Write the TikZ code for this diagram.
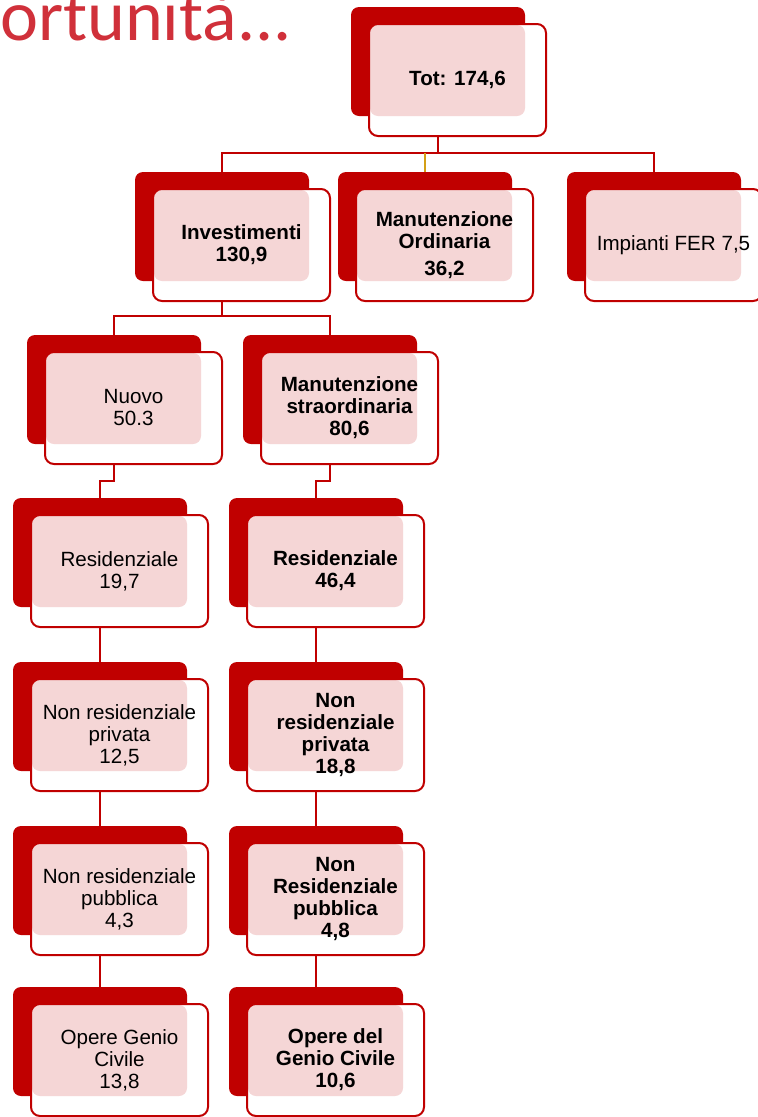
\documentclass[tikz,border=0pt]{standalone}
\usepackage{fontspec}
\setmainfont{Liberation Sans}
\newfontfamily\titlefont{Carlito}
\usetikzlibrary{calc}
\definecolor{dred}{HTML}{C00000}
\definecolor{ppink}{HTML}{F5D6D6}
\definecolor{goldline}{HTML}{D4A017}
\definecolor{ttl}{HTML}{D0303A}
\newcommand\lblfont{\fontsize{20.6}{22}\selectfont}
\pgfdeclarelayer{bg}
\pgfsetlayers{bg,main}
\tikzset{
  backbox/.style={fill=dred, rounded corners=8pt},
  frontbox/.style={draw=dred, line width=2pt, rounded corners=9pt},
  lbl/.style={align=center, inner sep=0pt, text=black},
  conn/.style={draw=dred, line width=2pt, line join=miter},
  goldconn/.style={draw=goldline, line width=2pt},
}
\newcommand\elem[5]{%
  \coordinate (#1-b) at (#2,#3);
  \coordinate (#1-top) at ($(#1-b)+(87,0)$);
  \coordinate (#1-bot) at ($(#1-b)+(87,109)$);
  \fill[backbox] (#1-b) rectangle ++(174,109);
  \fill[white, rounded corners=9pt] ($(#1-b)+(18,17)$) rectangle ++(177,112);
  \fill[ppink, rounded corners=8pt] ($(#1-b)+(19,18)$) rectangle ($(#1-b)+(174,109)$);
  \draw[frontbox] ($(#1-b)+(18,17)$) rectangle ++(177,112);
  \node[lbl, font=\lblfont#5] (#1) at ($(#1-b)+(106.5,73)$) {#4};
}
\begin{document}
\begin{tikzpicture}[x=1pt,y=-1pt]
\useasboundingbox (0,0) rectangle (758,1117);
\clip (0,0) rectangle (758,1117);
\node[anchor=base east, inner sep=0pt, text=ttl, font=\titlefont\fontsize{72}{72}\selectfont] (title) at (292,40) {Opportunità...};

\elem{tot}{351}{7}{Tot: 174,6}{\bfseries}
\elem{inv}{135}{172}{Investimenti\\130,9}{\bfseries}
\elem{mo}{338}{172}{Manutenzione\\Ordinaria\\[5pt]36,2}{\bfseries}
\elem{fer}{567}{172}{Impianti FER 7,5}{}
\elem{nuovo}{27}{335}{Nuovo\\50.3}{}
\elem{ms}{243}{335}{Manutenzione\\straordinaria\\80,6}{\bfseries}
\elem{resl}{13}{498}{Residenziale\\19,7}{}
\elem{resr}{229}{498}{Residenziale\\46,4}{\bfseries}
\elem{npl}{13}{662}{Non residenziale\\privata\\12,5}{}
\elem{npr}{229}{662}{Non\\residenziale\\privata\\18,8}{\bfseries}
\elem{nbl}{13}{826}{Non residenziale\\pubblica\\4,3}{}
\elem{nbr}{229}{826}{Non\\Residenziale\\pubblica\\4,8}{\bfseries}
\elem{ogl}{13}{987}{Opere Genio\\Civile\\13,8}{}
\elem{ogr}{229}{987}{Opere del\\Genio Civile\\10,6}{\bfseries}

\begin{pgfonlayer}{bg}
  \coordinate (h1) at (0,153);
  \coordinate (h2) at (0,316);
  \coordinate (h3) at (0,481);
  \draw[conn] (tot-bot) -- (tot-bot |- h1);
  \draw[conn] (inv-top) -- (inv-top |- h1) -- (fer-top |- h1) -- (fer-top);
  \draw[goldconn] (mo-top) -- (mo-top |- h1);
  \draw[conn] (inv-bot) -- (inv-bot |- h2);
  \draw[conn] (nuovo-top) -- (nuovo-top |- h2) -- (ms-top |- h2) -- (ms-top);
  \draw[conn] (nuovo-bot) -- (nuovo-bot |- h3) -- (resl-top |- h3) -- (resl-top);
  \draw[conn] (ms-bot) -- (ms-bot |- h3) -- (resr-top |- h3) -- (resr-top);
  \draw[conn] (resl-bot) -- (npl-top);
  \draw[conn] (npl-bot) -- (nbl-top);
  \draw[conn] (nbl-bot) -- (ogl-top);
  \draw[conn] (resr-bot) -- (npr-top);
  \draw[conn] (npr-bot) -- (nbr-top);
  \draw[conn] (nbr-bot) -- (ogr-top);
\end{pgfonlayer}
\end{tikzpicture}
\end{document}
